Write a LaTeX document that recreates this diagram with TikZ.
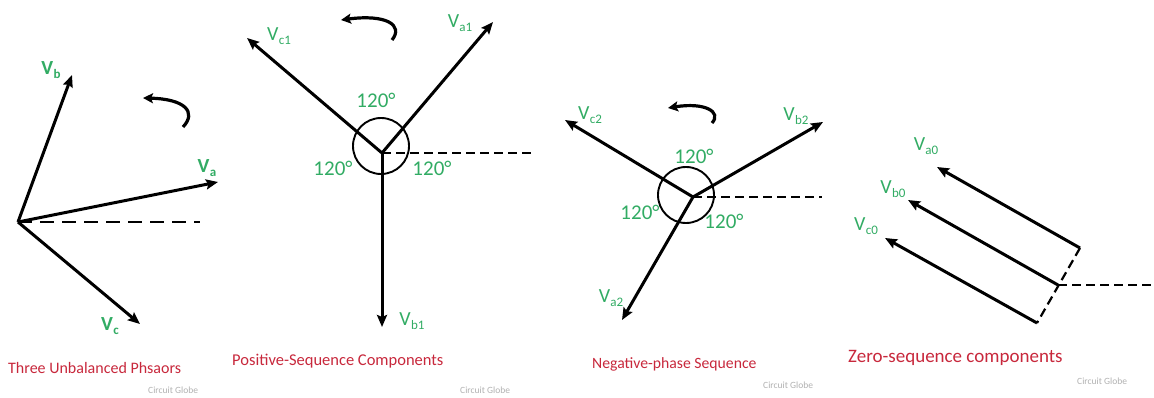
\documentclass[tikz,border=0pt]{standalone}
\usepackage{fontspec}
\setmainfont{Carlito}
\usetikzlibrary{arrows.meta}
\definecolor{lblgreen}{RGB}{50,172,100}
\definecolor{capred}{RGB}{200,40,60}
\definecolor{wmgray}{RGB}{178,178,178}
\newcommand{\phv}[1]{V\kern0.3pt\raisebox{-4pt}{\fontsize{13}{13}\selectfont #1}}
\tikzset{
  vec/.style={line width=3pt,-{Stealth[length=12pt,width=10pt,inset=2pt]}},
  rot/.style={line width=3.2pt,-{Stealth[length=10pt,width=10pt,inset=2pt]}},
  refline/.style={line width=2.2pt,dash pattern=on 9pt off 5pt},
  reflong/.style={line width=1.6pt,dash pattern=on 14pt off 8pt},
  lbl/.style={text=lblgreen,font=\fontsize{20}{20}\selectfont,inner sep=0pt},
  lblb/.style={text=lblgreen,font=\fontsize{20}{20}\selectfont\bfseries,inner sep=0pt},
  ang/.style={text=lblgreen,font=\fontsize{21}{21}\selectfont,inner sep=0pt},
  captxt/.style={text=capred,font=\fontsize{16}{16}\selectfont,inner sep=0pt,anchor=west},
  wm/.style={text=wmgray,font=\fontsize{9.5}{9.5}\selectfont,inner sep=0pt,anchor=west}
}
\begin{document}
\begin{tikzpicture}[x=1pt,y=-1pt]
\useasboundingbox[fill=white] (0,0) rectangle (1154,398);
% ---------- Panel 1 ----------
\coordinate (o1) at (18,222);
\coordinate (va) at (218,182);
\coordinate (vb) at (72,75);
\coordinate (vc) at (140,324);
\coordinate (d1) at (200,222);
\draw[reflong] (o1) -- (d1);
\draw[vec] (o1) -- (va);
\draw[vec] (o1) -- (vb);
\draw[vec] (o1) -- (vc);
\coordinate (r1s) at (183,127);
\coordinate (r1e) at (143,98);
\draw[rot] (r1s) .. controls (197,112) and (185,99) .. (r1e);
\node[lblb] (lva) at (207,168) {\phv{a}};
\node[lblb] (lvb) at (51,70) {\phv{b}};
\node[lblb] (lvc) at (110,326) {\phv{c}};
% ---------- Panel 2 ----------
\coordinate (o2) at (382,153);
\coordinate (va1) at (493,22);
\coordinate (vb1) at (382,327);
\coordinate (vc1) at (247,38);
\coordinate (d2) at (535,153);
\draw[line width=1.9pt] (381,146) circle (28);
\draw[refline] (o2) -- (d2);
\draw[vec] (o2) -- (va1);
\draw[vec] (o2) -- (vb1);
\draw[vec] (o2) -- (vc1);
\coordinate (r2s) at (392,40);
\coordinate (r2e) at (341,20);
\draw[rot] (r2s) .. controls (404,25) and (386,14) .. (r2e);
\node[lbl] (lva1) at (460,23) {\phv{a1}};
\node[lbl] (lvc1) at (279,36) {\phv{c1}};
\node[lbl] (lvb1) at (412,321) {\phv{b1}};
\node[ang] (a21) at (376,100) {120°};
\node[ang] (a22) at (333,168) {120°};
\node[ang] (a23) at (432,168) {120°};
% ---------- Panel 3 ----------
\coordinate (o3) at (693,197);
\coordinate (vb2) at (823,122);
\coordinate (vc2) at (565,120);
\coordinate (va2) at (622,320);
\coordinate (d3) at (822,197);
\draw[line width=1.9pt] (686,195) circle (28);
\draw[refline] (o3) -- (d3);
\draw[vec] (o3) -- (vb2);
\draw[vec] (o3) -- (vc2);
\draw[vec] (o3) -- (va2);
\coordinate (r3s) at (712,123);
\coordinate (r3e) at (668,108);
\draw[rot] (r3s) .. controls (722,112) and (705,102) .. (r3e);
\node[lbl] (lvc2) at (590,115) {\phv{c2}};
\node[lbl] (lvb2) at (796,116) {\phv{b2}};
\node[lbl] (lva2) at (611,298) {\phv{a2}};
\node[ang] (a31) at (694,156) {120°};
\node[ang] (a32) at (640,212) {120°};
\node[ang] (a33) at (724,221) {120°};
% ---------- Panel 4 ----------
\coordinate (sa) at (1080,248);
\coordinate (sb) at (1058,285);
\coordinate (sc) at (1037,323);
\coordinate (ta) at (937,167);
\coordinate (tb) at (908,200);
\coordinate (tc) at (885,238);
\coordinate (d4) at (1154,285);
\draw[refline] (sa) -- (sc);
\draw[refline] (sb) -- (d4);
\draw[vec] (sa) -- (ta);
\draw[vec] (sb) -- (tb);
\draw[vec] (sc) -- (tc);
\node[lbl] (lva0) at (926,146) {\phv{a0}};
\node[lbl] (lvb0) at (893,189) {\phv{b0}};
\node[lbl] (lvc0) at (866,226) {\phv{c0}};
% ---------- Captions ----------
\node[captxt] (c1) at (8,368) {Three Unbalanced Phsaors};
\node[captxt] (c2) at (232,361) {\fontsize{16.5}{16.5}\selectfont Positive-Sequence Components};
\node[captxt] (c3) at (592,364) {\fontsize{15.7}{15.7}\selectfont Negative-phase Sequence};
\node[captxt] (c4) at (848,358) {\fontsize{19}{19}\selectfont Zero-sequence components};
\node[wm] (w1) at (148,390) {Circuit Globe};
\node[wm] (w2) at (460,390) {Circuit Globe};
\node[wm] (w3) at (763,385) {Circuit Globe};
\node[wm] (w4) at (1077,381) {Circuit Globe};
\end{tikzpicture}
\end{document}
